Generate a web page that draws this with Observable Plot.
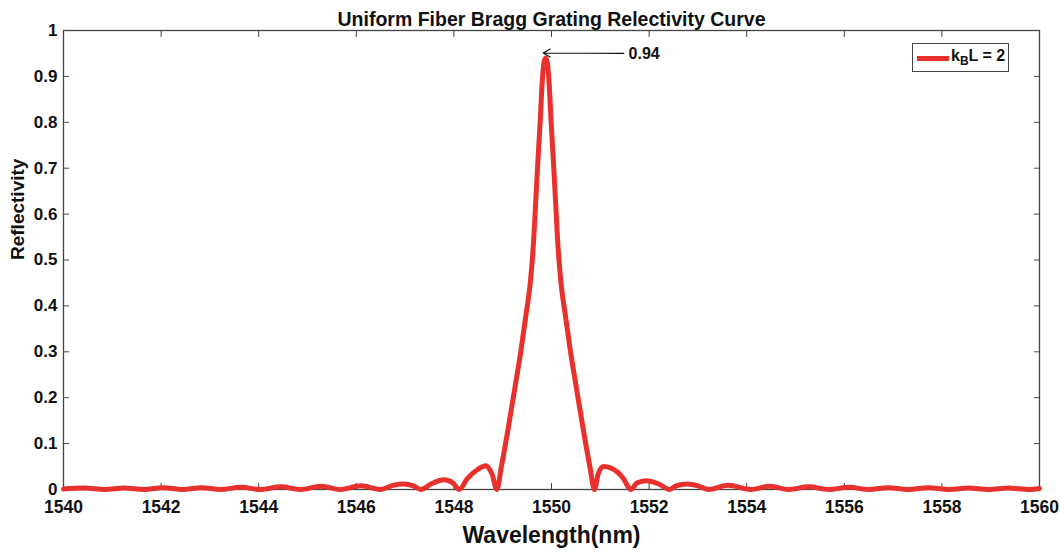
<!DOCTYPE html>
<html>
<head>
<meta charset="utf-8">
<script src="https://cdn.jsdelivr.net/npm/d3@7"></script>
<script src="https://cdn.jsdelivr.net/npm/@observablehq/plot@0.6"></script>
<style>
  html, body { margin: 0; padding: 0; background: #fff; }
  #wrap { position: relative; width: 1061px; height: 552px; }
  #legend { position: absolute; left: 912px; top: 43px; width: 95px; height: 27px; border: 1px solid #444; background: #fff;
    font-family: "Liberation Sans", Arial, sans-serif; font-weight: bold; font-size: 16px; color: #111; }
  #legend .sw { position: absolute; left: 4px; top: 12px; width: 32px; height: 5px; background: #e8302d; }
  #legend .tx { position: absolute; left: 38px; top: 3px; white-space: nowrap; }
  #legend sub { font-size: 12px; vertical-align: -4px; }
</style>
</head>
<body>
<div id="wrap"><div id="legend"><div class="sw"></div><div class="tx">k<sub>B</sub>L = 2</div></div></div>
<script>
const titleText = "Uniform Fiber Bragg Grating Relectivity Curve";
const xLabel = "Wavelength(nm)";
const yLabel = "Reflectivity";
const xTicks = [1540, 1542, 1544, 1546, 1548, 1550, 1552, 1554, 1556, 1558, 1560];
const yTicks = [0, 0.1, 0.2, 0.3, 0.4, 0.5, 0.6, 0.7, 0.8, 0.9, 1];
const yTickLabels = ["0", "0.1", "0.2", "0.3", "0.4", "0.5", "0.6", "0.7", "0.8", "0.9", "1"];

const wavelength = [
  1540.00, 1540.42, 1540.85, 1541.25, 1541.65, 1542.04, 1542.44, 1542.83, 1543.22, 1543.63,
  1544.04, 1544.45, 1544.86, 1545.27, 1545.68, 1546.09, 1546.50, 1546.75, 1546.97, 1547.17,
  1547.32, 1547.55, 1547.80, 1547.98, 1548.11, 1548.27, 1548.48, 1548.65, 1548.78,
  1548.880, 1548.972, 1549.095, 1549.265, 1549.370, 1549.470, 1549.565, 1549.634, 1549.678, 1549.722,
  1549.767, 1549.812, 1549.845, 1549.880, 1549.915, 1549.948, 1549.993, 1550.038, 1550.082, 1550.126,
  1550.195, 1550.290, 1550.390, 1550.495, 1550.665, 1550.788, 1550.880,
  1550.96, 1551.07, 1551.35, 1551.48,
  1551.62, 1551.75, 1551.93, 1552.20, 1552.42, 1552.55, 1552.78, 1553.00, 1553.22, 1553.62,
  1554.08, 1554.47, 1554.86, 1555.27, 1555.68, 1556.09, 1556.50, 1556.90, 1557.30, 1557.72,
  1558.15, 1558.55, 1558.95, 1559.37, 1559.80, 1560.00
];
const reflectivity = [
  0.001, 0.003, 0.000, 0.003, 0.000, 0.004, 0.000, 0.004, 0.000, 0.005,
  0.000, 0.006, 0.000, 0.007, 0.000, 0.008, 0.000, 0.009, 0.012, 0.008,
  0.000, 0.013, 0.021, 0.014, 0.000, 0.023, 0.043, 0.052, 0.034,
  0.000, 0.049, 0.122, 0.231, 0.300, 0.375, 0.450, 0.542, 0.630, 0.717,
  0.800, 0.891, 0.930, 0.940, 0.930, 0.891, 0.800, 0.717, 0.630, 0.542,
  0.450, 0.375, 0.300, 0.231, 0.122, 0.049, 0.000,
  0.035, 0.050, 0.038, 0.023,
  0.000, 0.014, 0.019, 0.012, 0.000, 0.008, 0.012, 0.008, 0.000, 0.009,
  0.000, 0.007, 0.000, 0.006, 0.000, 0.005, 0.000, 0.004, 0.000, 0.004,
  0.000, 0.003, 0.000, 0.003, 0.000, 0.002
];
const peakLabel = ["0.94"];
const peakX = [1549.88];
const peakY = [0.945];
const labelX = [1551.58];
const labelY = [0.950];

const data = wavelength.map((w, i) => ({w, r: reflectivity[i]}));
const annot = [{x1: labelX[0] - 0.1, y1: labelY[0], x2: peakX[0] - 0.05, y2: peakY[0] + 0.006, t: peakLabel[0], tx: labelX[0], ty: labelY[0]}];

const font = "'Liberation Sans', Arial, sans-serif";
const axisColor = "#444";

const chart = Plot.plot({
  width: 1061,
  height: 552,
  marginLeft: 63,
  marginRight: 22,
  marginTop: 30,
  marginBottom: 63,
  style: {fontFamily: font, fontWeight: "bold", background: "#fff", color: "#111"},
  x: {domain: [1540, 1560]},
  y: {domain: [0, 1]},
  marks: [
    Plot.frame({stroke: axisColor, strokeWidth: 1.3}),
    Plot.axisX({anchor: "bottom", ticks: xTicks, tickSize: -6, tickPadding: 17, tickFormat: d => String(d), fontSize: 17.5, stroke: axisColor, fill: "#111", label: null}),
    Plot.axisX({anchor: "top", ticks: xTicks, tickSize: -6, tickFormat: () => "", stroke: axisColor, label: null}),
    Plot.axisY({anchor: "left", ticks: yTicks, tickSize: -6, tickPadding: 12, tickFormat: (d, i) => yTickLabels[i], fontSize: 17, stroke: axisColor, fill: "#111", label: null}),
    Plot.axisY({anchor: "right", ticks: yTicks, tickSize: -6, tickFormat: () => "", stroke: axisColor, label: null}),
    Plot.line(data, {x: "w", y: "r", stroke: "#e8302d", strokeWidth: 5, curve: "monotone-x"}),
    Plot.arrow(annot, {x1: "x1", y1: "y1", x2: "x2", y2: "y2", stroke: "#111", strokeWidth: 1.2, headLength: 10}),
    Plot.text(annot, {x: "tx", y: "ty", text: "t", textAnchor: "start", fontSize: 16, fill: "#111"}),
    Plot.text([titleText], {frameAnchor: "top", lineAnchor: "bottom", dy: -5, fontSize: 19.5, fill: "#111"}),
    Plot.text([xLabel], {frameAnchor: "bottom", lineAnchor: "middle", dy: 46, fontSize: 23, fill: "#111"}),
    Plot.text([yLabel], {frameAnchor: "left", rotate: -90, dx: -46, fontSize: 19, fill: "#111"})
  ]
});
document.getElementById("wrap").prepend(chart);
</script>
</body>
</html>
